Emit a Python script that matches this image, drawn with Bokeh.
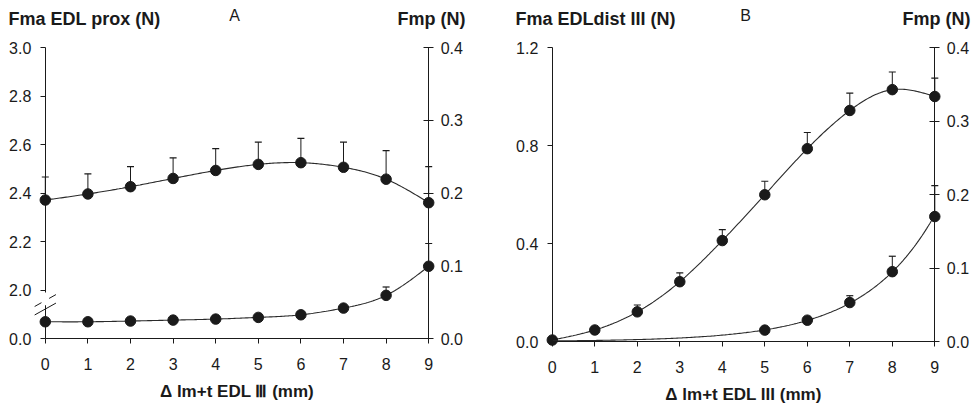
import numpy as np
from bokeh.plotting import figure
from bokeh.models import (LinearAxis, Range1d, FixedTicker, CustomJSTickFormatter,
                          Label, BoxAnnotation)
from bokeh.layouts import row
from bokeh.embed import file_html
from bokeh.resources import INLINE

nan = float("nan")

# ---------------- data ----------------
x_steps = [0, 1, 2, 3, 4, 5, 6, 7, 8, 9]
x_ticks = [0, 1, 2, 3, 4, 5, 6, 7, 8, 9]

# Panel A
a_fma = [2.371, 2.396, 2.426, 2.460, 2.493, 2.518, 2.525, 2.506, 2.457, 2.360]
a_fma_err_top = [2.466, 2.479, 2.509, 2.545, 2.583, 2.610, 2.625, 2.610, 2.575, 2.509]
a_fmp = [0.0230, 0.0230, 0.0240, 0.0253, 0.0267, 0.0290, 0.0326, 0.0418, 0.0593, 0.0993]
a_fmp_err_top = [nan, nan, nan, nan, nan, nan, nan, nan, 0.0708, 0.1306]
a_left_ticks = [1.8, 2.0, 2.2, 2.4, 2.6, 2.8, 3.0]

# Panel B
b_fma = [0.006, 0.047, 0.121, 0.244, 0.412, 0.599, 0.787, 0.943, 1.028, 1.000]
b_fma_err_top = [nan, nan, 0.149, 0.280, 0.457, 0.654, 0.853, 1.014, 1.100, 1.075]
b_fmp_x = [5, 6, 7, 8, 9]
b_fmp = [0.0155, 0.0290, 0.0530, 0.0950, 0.1700]
b_fmp_err_top = [nan, nan, 0.0623, 0.116, 0.212]
b_left_ticks = [0.0, 0.4, 0.8, 1.2]

fmp_ticks = [0.0, 0.1, 0.2, 0.3, 0.4]

title_a = "Fma EDL prox (N)"
title_b = "Fma EDLdist III (N)"
right_title = "Fmp (N)"
xlabel_a = "\u0394 lm+t EDL \u2162 (mm)"
xlabel_b = "\u0394 lm+t EDL III (mm)"

# ---------------- helpers ----------------
FONT = "Liberation Sans"
INK = "#1a1a1a"
CANVAS_TOP = 0
CANVAS_H = 408


def spline_curve(xs, ys, num=240):
    x = np.asarray(xs, float)
    y = np.asarray(ys, float)
    n = len(x)
    h = np.diff(x)
    A = np.zeros((n, n))
    b = np.zeros(n)
    A[0, 0] = A[-1, -1] = 1.0
    for i in range(1, n - 1):
        A[i, i - 1] = h[i - 1]
        A[i, i] = 2 * (h[i - 1] + h[i])
        A[i, i + 1] = h[i]
        b[i] = 6 * ((y[i + 1] - y[i]) / h[i] - (y[i] - y[i - 1]) / h[i - 1])
    M = np.linalg.solve(A, b)
    xx = np.linspace(x[0], x[-1], num)
    idx = np.clip(np.searchsorted(x, xx) - 1, 0, n - 2)
    x0 = x[idx]
    x1 = x[idx + 1]
    hh = x1 - x0
    t0 = x1 - xx
    t1 = xx - x0
    yy = (M[idx] * t0 ** 3 / (6 * hh) + M[idx + 1] * t1 ** 3 / (6 * hh)
          + (y[idx] / hh - M[idx] * hh / 6) * t0 + (y[idx + 1] / hh - M[idx + 1] * hh / 6) * t1)
    return xx, yy


class Geo:
    """page-pixel geometry of one panel (frame == whole canvas)"""

    def __init__(self, canvas_left, canvas_w, px0, px9, py_top, v_top, py_bot, v_bot):
        self.ux = (px9 - px0) / 9.0
        self.x0 = (canvas_left - px0) / self.ux
        self.x1 = self.x0 + canvas_w / self.ux
        self.uy = (py_bot - py_top) / (v_top - v_bot)
        self.y1 = v_top + (py_top - CANVAS_TOP) / self.uy
        self.y0 = self.y1 - CANVAS_H / self.uy
        self.px0 = px0
        self.w = canvas_w

    def dx(self, page_x):
        return (page_x - self.px0) / self.ux

    def dy(self, page_y):
        return self.y1 - (page_y - CANVAS_TOP) / self.uy


def style_axis(ax, size="16px"):
    ax.axis_line_color = INK
    ax.major_tick_line_color = INK
    ax.minor_tick_line_color = None
    ax.major_label_text_font = FONT
    ax.major_label_text_font_size = size
    ax.major_label_text_color = INK
    ax.axis_label_text_font = FONT
    ax.axis_label_text_color = INK


def draw_series(p, xs, ys, tops, curve_x, curve_y, yname="default"):
    p.line(curve_x, curve_y, line_color="#2a2a2a", line_width=1.1, y_range_name=yname)
    p.segment(x0=xs, y0=ys, x1=xs, y1=tops, line_color=INK, line_width=1, y_range_name=yname)
    p.scatter(xs, tops, marker="dash", size=7, line_color=INK, line_width=1.2, y_range_name=yname)
    p.scatter(xs, ys, marker="circle", size=10.5, fill_color=INK, line_color=INK, y_range_name=yname)


def make_panel(g, fmp_scale, fmp_offset):
    p = figure(frame_width=g.w, frame_height=CANVAS_H,
               x_range=Range1d(g.x0, g.x1), y_range=Range1d(g.y0, g.y1),
               x_axis_location=None, y_axis_location=None,
               toolbar_location=None, output_backend="svg",
               min_border=0, min_border_left=0, min_border_right=0,
               min_border_top=0, min_border_bottom=0)
    p.extra_y_ranges = {"fmp": Range1d((g.y0 - fmp_offset) / fmp_scale,
                                       (g.y1 - fmp_offset) / fmp_scale)}
    p.outline_line_color = None
    p.grid.visible = False
    p.background_fill_color = "white"
    p.border_fill_color = "white"
    return p


def add_axes(p, x_at, left_bounds, left_ticks, left_fmt, xlabel):
    xa = LinearAxis(fixed_location=x_at, bounds=(0, 9), ticker=FixedTicker(ticks=x_ticks),
                    axis_label=xlabel)
    style_axis(xa)
    xa.major_tick_in = 0
    xa.major_tick_out = 5
    xa.major_label_standoff = 14
    xa.axis_label_standoff = 9
    xa.axis_label_text_font_size = "17px"
    xa.axis_label_text_font_style = "bold"
    p.add_layout(xa, "below")

    ya = LinearAxis(fixed_location=0, bounds=left_bounds, ticker=FixedTicker(ticks=left_ticks),
                    formatter=CustomJSTickFormatter(code=left_fmt))
    style_axis(ya)
    ya.major_tick_in = 0
    ya.major_tick_out = 5
    ya.major_label_standoff = 9
    p.add_layout(ya, "left")

    ra = LinearAxis(fixed_location=9, y_range_name="fmp", bounds=(0, 0.4),
                    ticker=FixedTicker(ticks=fmp_ticks),
                    formatter=CustomJSTickFormatter(code="return tick.toFixed(1);"))
    style_axis(ra)
    ra.major_tick_in = 5
    ra.major_tick_out = 5
    ra.major_label_standoff = 7
    p.add_layout(ra, "right")


def add_titles(p, g, left_text, left_px, letter, letter_px, right_px):
    p.add_layout(Label(x=g.dx(left_px), y=g.dy(18), text=left_text, text_font=FONT,
                       text_font_size="18px", text_font_style="bold", text_align="left",
                       text_baseline="middle", text_color=INK))
    p.add_layout(Label(x=g.dx(letter_px), y=g.dy(15), text=letter, text_font=FONT,
                       text_font_size="16px", text_align="center", text_baseline="middle",
                       text_color=INK))
    p.add_layout(Label(x=g.dx(right_px), y=g.dy(18), text=right_title, text_font=FONT,
                       text_font_size="18px", text_font_style="bold", text_align="right",
                       text_baseline="middle", text_color=INK))


# ---------------- Panel A ----------------
ga = Geo(0, 515, 44.8, 428.2, 47, 3.0, 338, 1.8)
pa = make_panel(ga, 3.0, 1.8)   # fma = 1.8 + 3 * fmp
add_axes(pa, 1.8, (1.8, 3.0), a_left_ticks,
         "return tick < 1.9 ? '0.0' : tick.toFixed(1);", xlabel_a)

cx, cy = spline_curve(x_steps, a_fma)
draw_series(pa, x_steps, a_fma, a_fma_err_top, cx, cy)
cx, cy = spline_curve(x_steps, a_fmp)
draw_series(pa, x_steps, a_fmp, a_fmp_err_top, cx, cy, "fmp")

# axis break
pa.add_layout(BoxAnnotation(left=-0.09, right=0.09, bottom=1.937, top=1.99,
                            fill_color="white", fill_alpha=1.0, line_color=None, level="overlay"))
brk = pa.segment(x0=[-0.25, -0.25], y0=[1.932, 1.897], x1=[0.25, 0.25], y1=[1.981, 1.946],
                 line_color=INK, line_width=1)
brk.level = "overlay"

add_titles(pa, ga, title_a, 8, "A", 234, 465)

# ---------------- Panel B ----------------
gb = Geo(515, 460, 551.8, 934.3, 47, 1.2, 341, 0.0)
pb = make_panel(gb, 3.0, 0.0)   # fma = 3 * fmp
add_axes(pb, 0.0, (0, 1.2), b_left_ticks, "return tick.toFixed(1);", xlabel_b)

cx, cy = spline_curve(x_steps, b_fma)
draw_series(pb, x_steps, b_fma, b_fma_err_top, cx, cy)
coef = np.polyfit(b_fmp_x, np.log(b_fmp), 1)
ex = np.linspace(0, 9, 240)
ey = np.exp(coef[1]) * np.exp(coef[0] * ex)
draw_series(pb, b_fmp_x, b_fmp, b_fmp_err_top, ex, ey, "fmp")

add_titles(pb, gb, title_b, 515, "B", 745, 970)

layout = row(pa, pb)
open("out.html", "w").write(file_html(layout, INLINE))
